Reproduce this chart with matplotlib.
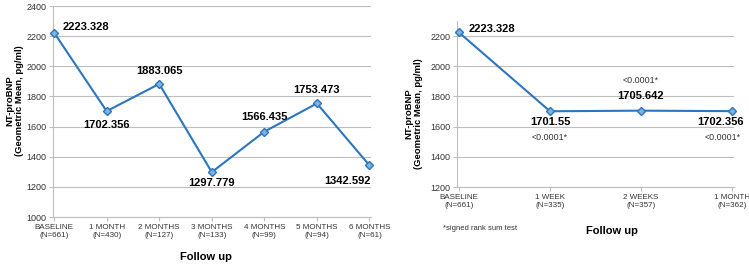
import matplotlib
matplotlib.use("Agg")
import matplotlib.pyplot as plt

plt.rcParams['font.family'] = ['Liberation Sans', 'DejaVu Sans']

# left panel data
months = ['BASELINE\n(N=661)', '1 MONTH\n(N=430)', '2 MONTHS\n(N=127)',
          '3 MONTHS\n(N=133)', '4 MONTHS\n(N=99)', '5 MONTHS\n(N=94)',
          '6 MONTHS\n(N=61)']
monthly_mean = [2223.328, 1702.356, 1883.065, 1297.779, 1566.435, 1753.473, 1342.592]

# right panel data
weeks = ['BASELINE\n(N=661)', '1 WEEK\n(N=335)', '2 WEEKS\n(N=357)', '1 MONTH\n(N=362)']
weekly_mean = [2223.328, 1701.55, 1705.642, 1702.356]
p_values = ['', '<0.0001*', '<0.0001*', '<0.0001*']

line_color = '#2B76BF'
fill_color = '#7FB2E0'
grid_color = '#BEBEBE'
text_color = '#333333'

fig = plt.figure(figsize=(7.49, 2.65), dpi=100)
ax1 = fig.add_axes([0.0708, 0.1811, 0.4246, 0.7962])
ax2 = fig.add_axes([0.6104, 0.2943, 0.3693, 0.6268])


def style(ax, labels):
    ax.set_xticks(range(len(labels)))
    ax.set_xticklabels(labels, fontsize=5.8, color=text_color, linespacing=1.25)
    ax.tick_params(axis='x', length=3, color=grid_color, pad=2)
    ax.tick_params(axis='y', length=3, color=grid_color, labelsize=6.5,
                   labelcolor=text_color, pad=2)
    ax.yaxis.grid(True, color=grid_color, linewidth=0.8)
    ax.set_axisbelow(True)
    for s in ['top', 'right']:
        ax.spines[s].set_visible(False)
    for s in ['left', 'bottom']:
        ax.spines[s].set_color(grid_color)
        ax.spines[s].set_linewidth(0.8)


# left chart
ax1.plot(range(len(monthly_mean)), monthly_mean, color=line_color, lw=1.5,
         marker='D', ms=3.8, mfc=fill_color, mec=line_color, mew=1.0,
         clip_on=False, zorder=3)
ax1.set_xlim(-0.02, 6.03)
ax1.set_ylim(1000, 2400)
ax1.set_yticks(range(1000, 2401, 200))
style(ax1, months)

offsets1 = [(6.5, 4, 'left'), (0, -10, 'center'), (0, 9.4, 'center'),
            (0, -8, 'center'), (0, 10.5, 'center'), (0, 9.7, 'center'),
            (0.7, -11, 'right')]
for i, (v, (dx, dy, ha)) in enumerate(zip(monthly_mean, offsets1)):
    ax1.annotate(str(v), (i, v), xytext=(dx, dy), textcoords='offset points',
                 ha=ha, va='center', fontsize=8, fontweight='bold')

ax1.set_ylabel('NT-proBNP\n(Geometric Mean, pg/ml)', fontsize=6.8,
               fontweight='bold', linespacing=1.1)
ax1.yaxis.set_label_coords(-0.09, 0.55)
ax1.set_xlabel('Follow up', fontsize=8, fontweight='bold', va='center')
ax1.xaxis.set_label_coords(0.48, -0.19)

# right chart
ax2.plot(range(len(weekly_mean)), weekly_mean, color=line_color, lw=1.5,
         marker='D', ms=3.8, mfc=fill_color, mec=line_color, mew=1.0,
         clip_on=False, zorder=3)
ax2.set_xlim(-0.02, 3.02)
ax2.set_ylim(1200, 2300)
ax2.set_yticks(range(1200, 2201, 200))
style(ax2, weeks)

offsets2 = [(7, 2.5, 'left'), (0, -7.7, 'center'), (0, 10.6, 'center'),
            (-8, -7.7, 'center')]
p_offsets = [None, (0, -19), (0, 22), (-7, -18.7)]
for i, (v, (dx, dy, ha)) in enumerate(zip(weekly_mean, offsets2)):
    ax2.annotate(str(v), (i, v), xytext=(dx, dy), textcoords='offset points',
                 ha=ha, va='center', fontsize=8, fontweight='bold')
    if p_values[i]:
        ax2.annotate(p_values[i], (i, v), xytext=p_offsets[i],
                     textcoords='offset points', ha='center', va='center',
                     fontsize=6.4, color=text_color)

ax2.set_ylabel('NT-proBNP\n(Geometric Mean, pg/ml)', fontsize=6.8,
               fontweight='bold', linespacing=1.1)
ax2.yaxis.set_label_coords(-0.125, 0.44)
ax2.set_xlabel('Follow up', fontsize=8, fontweight='bold', va='center')
ax2.xaxis.set_label_coords(0.56, -0.265)

fig.text(443 / 749, 1 - 229 / 265, '*signed rank sum test', fontsize=5.5,
         color=text_color, va='center')

fig.savefig('out.png', dpi=100)
